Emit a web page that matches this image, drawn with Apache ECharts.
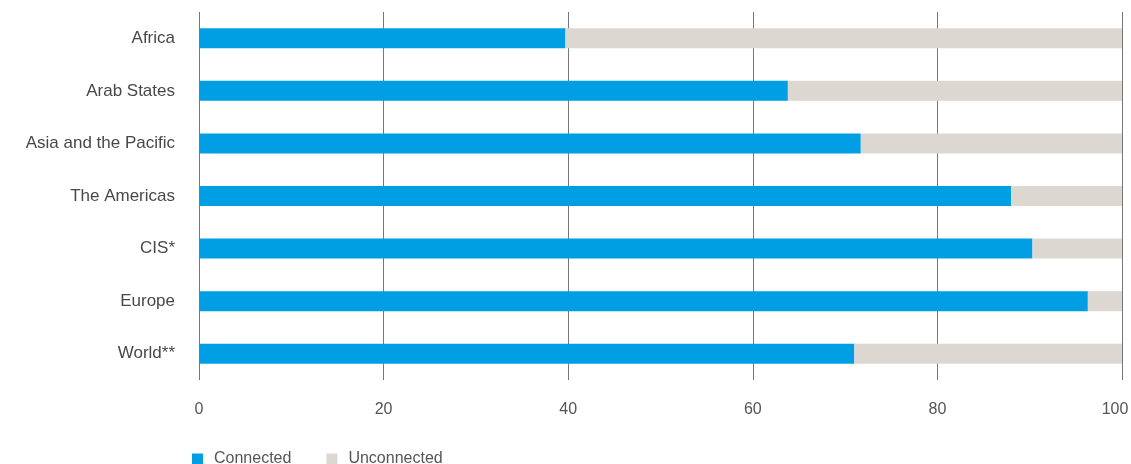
<!DOCTYPE html>
<html>
<head>
<meta charset="utf-8">
<script src="https://cdn.jsdelivr.net/npm/echarts@6/dist/echarts.min.js"></script>
<style>
html,body{margin:0;padding:0;background:#fff;}
#chart{width:1131px;height:464px;}
</style>
</head>
<body>
<div id="chart"></div>
<script>
const categories = ["Africa", "Arab States", "Asia and the Pacific", "The Americas", "CIS*", "Europe", "World**"];
const connected = [39.7, 63.8, 71.7, 88.0, 90.3, 96.3, 71.0];
const unconnected = [60.3, 36.2, 28.3, 12.0, 9.7, 3.7, 29.0];
const xTicks = [0, 20, 40, 60, 80, 100];

const chart = echarts.init(document.getElementById('chart'));
chart.setOption({
  animation: false,
  backgroundColor: '#ffffff',
  textStyle: { fontFamily: 'Liberation Sans, Arial, sans-serif' },
  grid: { left: 199, right: 9, top: 12, bottom: 84, containLabel: false, outerBoundsMode: 'none' },
  legend: {
    data: ['Connected', 'Unconnected'],
    left: 187, top: 446,
    itemWidth: 11, itemHeight: 11, itemGap: 35,
    icon: 'rect',
    textStyle: { color: '#555', fontSize: 16, padding: [0, 0, 0, 6] }
  },
  xAxis: {
    type: 'value', min: 0, max: 100, interval: 20,
    axisLine: { show: false },
    axisTick: { show: false },
    axisLabel: { color: '#555', fontSize: 16, margin: 22,
      formatter: v => v === 100 ? '{r|100}' : (xTicks.includes(v) ? String(v) : ''),
      rich: { r: { color: '#555', fontSize: 16, padding: [0, 14, 0, 0] } } },
    splitLine: { show: true, lineStyle: { color: '#777', width: 1 } }
  },
  yAxis: {
    type: 'category', data: categories, inverse: true,
    axisLine: { show: false },
    axisTick: { show: false },
    axisLabel: { color: '#484848', fontSize: 17, margin: 24 },
    splitLine: { show: false }
  },
  series: [
    { name: 'Connected', type: 'bar', stack: 'a', data: connected, barWidth: 20,
      itemStyle: { color: '#009fe3' } },
    { name: 'Unconnected', type: 'bar', stack: 'a', data: unconnected, barWidth: 20,
      itemStyle: { color: '#ddd7d1' } }
  ]
});
</script>
</body>
</html>
